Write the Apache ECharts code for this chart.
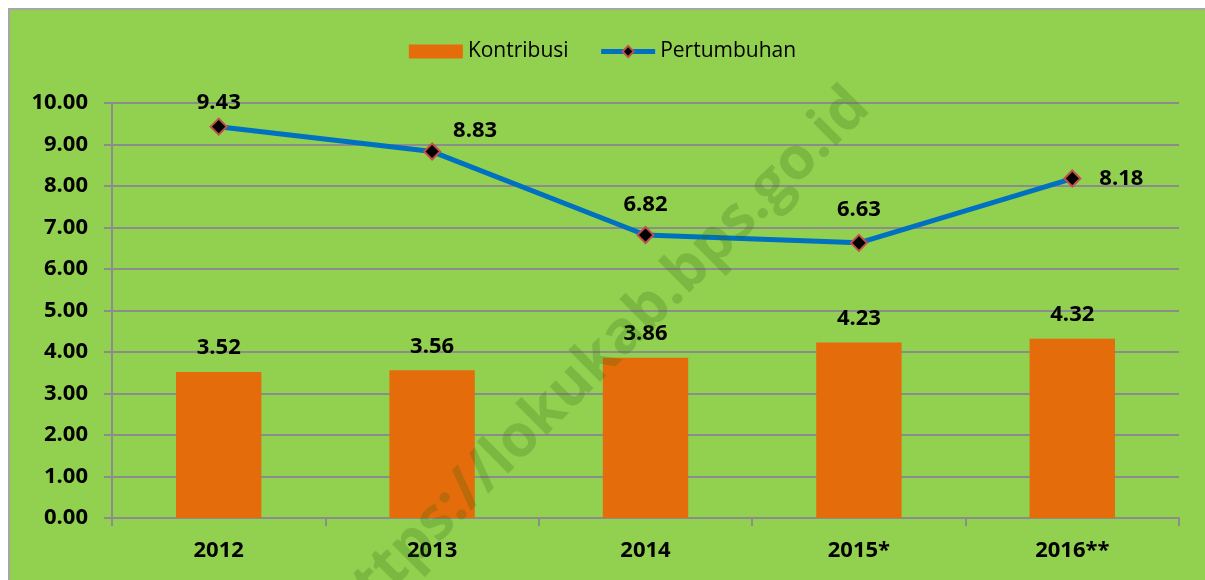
<!DOCTYPE html>
<html>

<head>
    <meta charset="utf-8">
    <title></title>
    <style>
        html, body { margin: 0; padding: 0; background: #fff; }
        #frame {
            position: absolute; left: 8px; top: 8px; width: 1210px; height: 590px;
            background: #92D050; border-left: 2px solid #A6A6A6; border-top: 2px solid #A6A6A6;
        }
        #chart { position: absolute; left: 0; top: 0; width: 1205px; height: 580px; }
    </style>
</head>

<body>
    <div id="frame"></div>
    <div id="chart"></div>
    <script src="https://cdn.jsdelivr.net/npm/echarts@6/dist/echarts.min.js"></script>
    <script>
    var years = ['2012', '2013', '2014', '2015*', '2016**'];
    var kontribusi = [3.52, 3.56, 3.86, 4.23, 4.32];
    var pertumbuhan = [9.43, 8.83, 6.82, 6.63, 8.18];
    var yTicks = [0, 1, 2, 3, 4, 5, 6, 7, 8, 9, 10];

    // label placement for the line points (Excel style, each one on its own)
    var lineLabel = [
        { position: 'top', distance: 4 },
        { position: 'right', distance: 12, offset: [0, -21] },
        { position: 'top', distance: 10 },
        { position: 'top', distance: 13 },
        { position: 'right', distance: 18 }
    ];

    var font = '"Open Sans", sans-serif';
    var myChart = echarts.init(document.getElementById('chart'));

    var option = {
        animation: false,
        backgroundColor: 'transparent',
        textStyle: { fontFamily: font },
        legend: {
            top: 36,
            left: 'center',
            itemGap: 30,
            itemWidth: 54,
            itemHeight: 14,
            textStyle: { fontSize: 21, color: '#000', fontFamily: font },
            data: [
                { name: 'Kontribusi', icon: 'rect' },
                { name: 'Pertumbuhan', lineStyle: { width: 5 } }
            ]
        },
        grid: { left: 112, right: 26, top: 103, bottom: 62 },
        xAxis: {
            type: 'category',
            data: years,
            axisLine: { lineStyle: { color: '#8C8C8C', width: 2 } },
            axisTick: { show: true, length: 8, lineStyle: { color: '#8C8C8C', width: 2 } },
            axisLabel: { fontSize: 22, fontWeight: 'bold', color: '#000', margin: 22 }
        },
        yAxis: {
            type: 'value',
            min: yTicks[0],
            max: yTicks[yTicks.length - 1],
            interval: 1,
            axisLine: { show: true, lineStyle: { color: '#8C8C8C', width: 2 } },
            axisTick: { show: true, length: 8, lineStyle: { color: '#8C8C8C', width: 2 } },
            splitLine: { lineStyle: { color: '#8C8C8C', width: 2 } },
            axisLabel: {
                fontSize: 22, fontWeight: 'bold', color: '#000', margin: 24,
                formatter: function (v) { return v.toFixed(2); }
            }
        },
        series: [{
            name: 'Kontribusi',
            type: 'bar',
            data: kontribusi,
            barWidth: '40%',
            itemStyle: { color: '#E46C0A' },
            label: {
                show: true, position: 'top', distance: 13,
                fontSize: 22, fontWeight: 'bold', color: '#000',
                formatter: function (p) { return p.value.toFixed(2); }
            }
        }, {
            name: 'Pertumbuhan',
            type: 'line',
            data: pertumbuhan.map(function (v, i) {
                return { value: v, label: lineLabel[i] };
            }),
            symbol: 'diamond',
            symbolSize: 16,
            lineStyle: { color: '#0070C0', width: 5 },
            itemStyle: { color: '#000', borderColor: '#C0504D', borderWidth: 2 },
            label: {
                show: true, fontSize: 22, fontWeight: 'bold', color: '#000',
                formatter: function (p) { return p.value.toFixed(2); }
            },
            z: 5
        }],
        graphic: [{
            type: 'text',
            x: 598,
            y: 360,
            rotation: Math.PI * 45 / 180,
            z: 100,
            style: {
                text: 'https://lokukab.bps.go.id',
                font: 'bold 59px "Open Sans", sans-serif',
                fill: 'rgba(40, 100, 20, 0.22)',
                align: 'center',
                verticalAlign: 'middle'
            }
        }]
    };

    myChart.setOption(option);
    addEventListener('resize', myChart.resize);
    </script>
</body>

</html>
